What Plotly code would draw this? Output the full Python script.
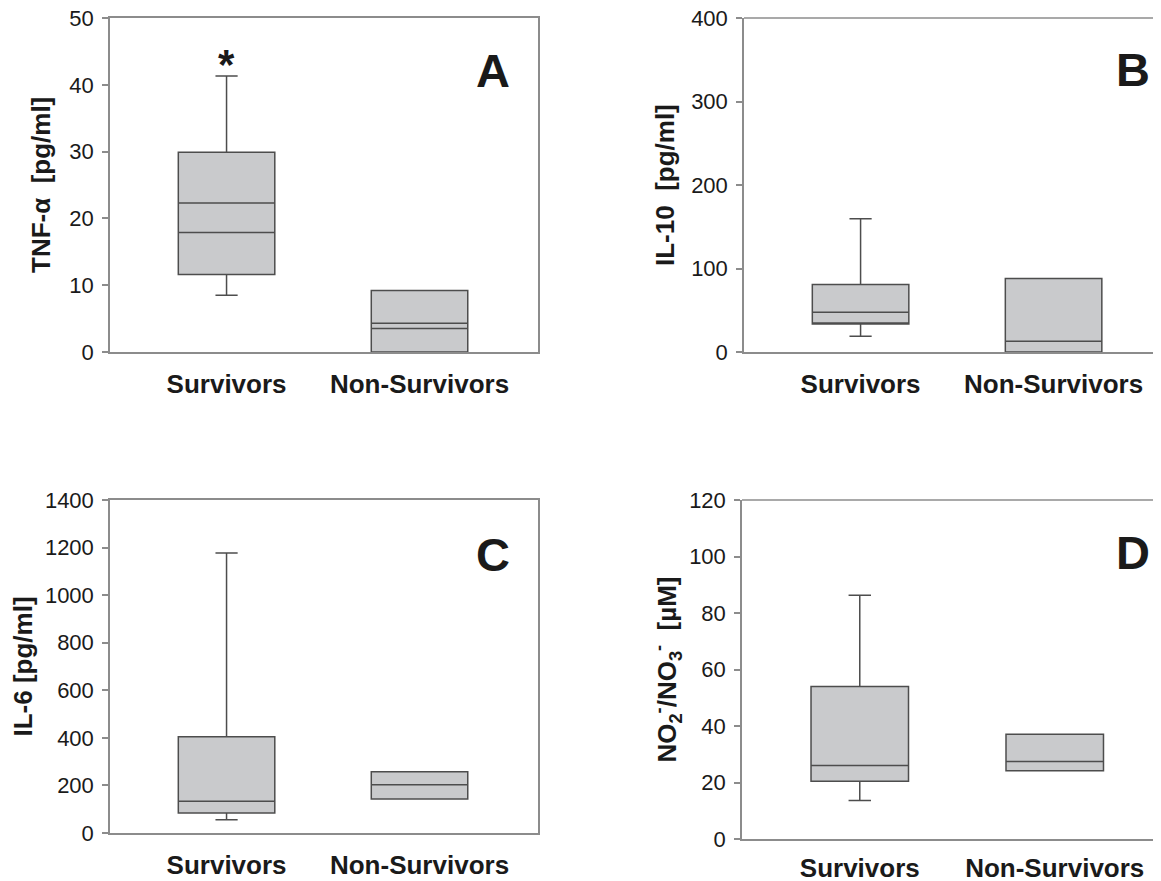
import plotly.graph_objects as go

# ---------------- data ----------------
groups = ["Survivors", "Non-Survivors"]

# Panel A: TNF-alpha [pg/ml]
tnf_lower = [8.5, 0.0]
tnf_q1 = [11.6, 0.0]
tnf_median = [17.9, 3.5]
tnf_q3 = [29.9, 9.2]
tnf_upper = [41.3, 9.2]
tnf_mean = [22.3, 4.3]

# Panel B: IL-10 [pg/ml]
il10_lower = [18.8, 0.0]
il10_q1 = [33.6, 0.0]
il10_median = [33.6, 12.8]
il10_q3 = [80.8, 88.0]
il10_upper = [159.6, 88.0]
il10_mean = [47.6, 12.8]

# Panel C: IL-6 [pg/ml]
il6_lower = [56, 143]
il6_q1 = [84, 143]
il6_median = [134, 203]
il6_q3 = [405, 257]
il6_upper = [1177, 257]

# Panel D: NO2-/NO3- [uM]
no_lower = [13.6, 24.2]
no_q1 = [20.4, 24.2]
no_median = [26.0, 27.4]
no_q3 = [54.0, 37.1]
no_upper = [86.3, 37.1]

yticks_A = [0, 10, 20, 30, 40, 50]
yticks_B = [0, 100, 200, 300, 400]
yticks_C = [0, 200, 400, 600, 800, 1000, 1200, 1400]
yticks_D = [0, 20, 40, 60, 80, 100, 120]

# ---------------- style ----------------
FONT = "Liberation Sans"
FILL = "#c9cacc"
LINE = "#4d4d4d"
AXIS = "#8c8c8c"
TXT = "#1a1a1a"
BOXW = 0.5
OFF = 8          # page body margin in the browser

W, H = 1161, 881


def px_x(a, b):
    return [max(a - OFF, 0) / W, min((b - OFF) / W, 1.0)]


def px_y(top, bottom):
    return [1 - (bottom - OFF) / H, 1 - (top - OFF) / H]


fig = go.Figure()

panels = [
    dict(ax="", xd=px_x(110, 538), yd=px_y(18, 352), xr=[-0.604, 1.614], yr=[0, 50], ticks=yticks_A,
         lo=tnf_lower, q1=tnf_q1, me=tnf_median, q3=tnf_q3, up=tnf_upper, mean=tnf_mean,
         title="TNF-α  [pg/ml]", tdist=69, letter="A", lx=0.939, ly=0.843, full=True, xs=8),
    dict(ax="2", xd=px_x(744, 1169), yd=px_y(18, 352), xr=[-0.604, 1.598], yr=[0, 400], ticks=yticks_B,
         lo=il10_lower, q1=il10_q1, me=il10_median, q3=il10_q3, up=il10_upper, mean=il10_mean,
         title="IL-10  [pg/ml]", tdist=79, letter="B", lx=0.96, ly=0.845, full=False, xs=8),
    dict(ax="3", xd=px_x(110, 538), yd=px_y(500, 833), xr=[-0.604, 1.614], yr=[0, 1400], ticks=yticks_C,
         lo=il6_lower, q1=il6_q1, me=il6_median, q3=il6_q3, up=il6_upper, mean=None,
         title="IL-6 [pg/ml]", tdist=88, letter="C", lx=0.939, ly=0.835, full=True, xs=8),
    dict(ax="4", xd=px_x(742, 1169), yd=px_y(500, 839), xr=[-0.604, 1.586], yr=[0, 120], ticks=yticks_D,
         lo=no_lower, q1=no_q1, me=no_median, q3=no_q3, up=no_upper, mean=None,
         title="NO<sub>2</sub><sup>-</sup>/NO<sub>3</sub><sup>-</sup>  [µM]", tdist=75,
         letter="D", lx=0.96, ly=0.846, full=False, xs=5),
]

for p in panels:
    xa = "x" + p["ax"]
    ya = "y" + p["ax"]
    for i, g in enumerate(groups):
        fig.add_trace(go.Box(
            x=[i], q1=[p["q1"][i]], median=[p["me"][i]], q3=[p["q3"][i]],
            lowerfence=[p["lo"][i]], upperfence=[p["up"][i]],
            width=BOXW, whiskerwidth=0.23, fillcolor=FILL,
            line=dict(color=LINE, width=1.5), boxpoints=False,
            xaxis=xa, yaxis=ya, showlegend=False, hoverinfo="skip", name=g,
        ))
        if p["mean"] is not None and p["mean"][i] != p["me"][i]:
            fig.add_trace(go.Scatter(
                x=[i - BOXW / 2, i + BOXW / 2], y=[p["mean"][i], p["mean"][i]],
                mode="lines", line=dict(color=LINE, width=1.5),
                xaxis=xa, yaxis=ya, showlegend=False, hoverinfo="skip",
            ))
    key = p["ax"]
    fig.layout["xaxis" + key] = dict(
        domain=p["xd"], range=p["xr"], anchor=ya, tickvals=[0, 1], ticktext=groups,
        showline=True, linecolor=AXIS, linewidth=1.5, mirror=p["full"], ticks="",
        showgrid=False, zeroline=False, ticklabelstandoff=p["xs"], automargin=False,
        ticklabeloverflow="allow",
        tickfont=dict(family=FONT, size=26, color=TXT, weight="bold"),
    )
    fig.layout["yaxis" + key] = dict(
        domain=p["yd"], range=p["yr"], anchor=xa, tickvals=p["ticks"],
        showline=True, linecolor=AXIS, linewidth=1.5, mirror=p["full"],
        ticks="outside", ticklen=6, tickcolor=AXIS, tickwidth=1.5,
        showgrid=False, zeroline=False, ticklabelstandoff=4, automargin=False,
        ticklabeloverflow="allow",
        tickfont=dict(family=FONT, size=22, color=TXT),
    )
    # y-axis title
    fig.add_annotation(text=p["title"], xref=xa + " domain", yref=ya + " domain",
                       x=0, y=0.5, xshift=-p["tdist"], xanchor="center", yanchor="middle",
                       textangle=-90, showarrow=False,
                       font=dict(family=FONT, size=26, color=TXT, weight="bold"))
    if not p["full"]:
        fig.add_shape(type="line", xref=xa + " domain", yref=ya + " domain",
                      x0=0, x1=1, y0=1, y1=1, line=dict(color=AXIS, width=1.5))
    fig.add_annotation(text=p["letter"], xref=xa + " domain", yref=ya + " domain",
                       x=p["lx"], y=p["ly"], xanchor="right", yanchor="middle", showarrow=False,
                       font=dict(family=FONT, size=47, color=TXT, weight="bold"))

# significance asterisk above survivors (panel A)
fig.add_annotation(text="*", x=0, y=44.0, xref="x", yref="y", yanchor="middle",
                   yshift=-6, showarrow=False,
                   font=dict(family=FONT, size=42, color=TXT, weight="bold"))

fig.update_layout(
    width=W, height=H, margin=dict(l=0, r=0, t=0, b=0, autoexpand=False),
    paper_bgcolor="white", plot_bgcolor="white", boxmode="overlay",
    font=dict(family=FONT),
)

fig.write_html("out.html")
